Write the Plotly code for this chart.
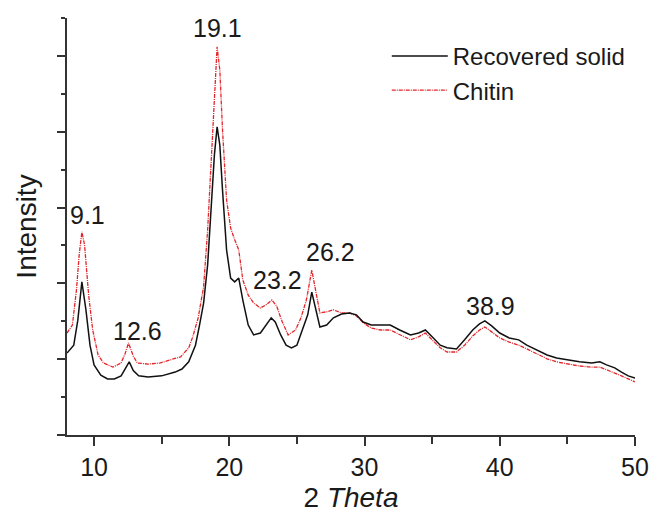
import plotly.graph_objects as go

# ---- data (2-theta in degrees, intensity in axis units) ----
theta_solid = [8.0, 8.5, 8.8, 9.1, 9.4, 9.7, 10.0, 10.5, 11.0, 11.5, 12.0, 12.3, 12.6, 12.9, 13.3,
               14.0, 15.0, 16.0, 16.5, 17.0, 17.5, 17.8, 18.1, 18.4, 18.7, 18.9, 19.1, 19.3, 19.5,
               19.8, 20.1, 20.4, 20.7, 21.0, 21.4, 21.8, 22.3, 22.7, 23.1, 23.4, 23.8, 24.2, 24.6,
               25.0, 25.4, 25.8, 26.1, 26.4, 26.7, 27.2, 27.7, 28.3, 28.9, 29.4, 29.9, 30.5, 31.2,
               31.9, 32.6, 33.4, 34.0, 34.5, 35.0, 35.6, 36.1, 36.8, 37.4, 38.0, 38.5, 38.9, 39.4,
               40.0, 40.7, 41.4, 42.0, 42.8, 43.5, 44.2, 45.0, 45.9, 46.8, 47.4, 47.9, 48.5, 49.0,
               49.5, 50.0]
int_solid = [2.16, 2.37, 3.03, 4.04, 3.30, 2.37, 1.85, 1.58, 1.48, 1.48, 1.56, 1.74, 1.93, 1.70, 1.56,
             1.53, 1.56, 1.66, 1.74, 1.93, 2.37, 2.90, 3.48, 4.49, 6.20, 7.39, 8.13, 7.65, 6.46,
             4.88, 4.14, 4.04, 4.14, 3.56, 2.90, 2.64, 2.69, 2.90, 3.09, 2.98, 2.64, 2.37, 2.30,
             2.37, 2.77, 3.17, 3.77, 3.30, 2.85, 2.90, 3.09, 3.19, 3.22, 3.17, 2.98, 2.90, 2.90,
             2.90, 2.77, 2.64, 2.69, 2.77, 2.59, 2.37, 2.30, 2.27, 2.51, 2.77, 2.93, 3.01, 2.88,
             2.69, 2.56, 2.51, 2.37, 2.24, 2.11, 2.03, 1.98, 1.93, 1.90, 1.93, 1.85, 1.77, 1.66,
             1.56, 1.50]

theta_chitin = [8.0, 8.4, 8.7, 8.9, 9.1, 9.3, 9.6, 9.9, 10.3, 10.7, 11.4, 12.0, 12.3, 12.55, 12.9,
                13.2, 14.0, 14.9, 15.6, 16.4, 17.0, 17.3, 17.7, 18.1, 18.4, 18.7, 18.9, 19.1, 19.3,
                19.5, 19.8, 20.1, 20.4, 20.7, 21.0, 21.4, 21.8, 22.3, 22.7, 23.15, 23.5, 23.9, 24.35,
                24.9, 25.3, 25.7, 26.1, 26.4, 26.7, 27.2, 27.7, 28.3, 28.9, 29.4, 29.9, 30.5, 31.2,
                31.9, 32.6, 33.4, 34.0, 34.5, 35.0, 35.6, 36.1, 36.8, 37.4, 38.0, 38.5, 38.9, 39.4,
                40.0, 40.7, 41.4, 42.0, 42.8, 43.5, 44.2, 45.0, 45.9, 46.8, 47.4, 47.9, 48.5, 49.0,
                49.5, 50.0]
int_chitin = [2.69, 2.90, 3.83, 4.75, 5.36, 5.01, 3.69, 2.77, 2.11, 1.90, 1.79, 1.90, 2.15, 2.43, 2.08,
              1.90, 1.87, 1.90, 1.98, 2.06, 2.30, 2.59, 3.09, 3.91, 5.41, 7.52, 9.10, 10.24, 9.63,
              8.05, 6.20, 5.46, 5.15, 4.88, 4.09, 3.69, 3.48, 3.35, 3.43, 3.56, 3.40, 3.00, 2.64,
              2.77, 3.09, 3.56, 4.35, 3.83, 3.22, 3.25, 3.30, 3.22, 3.22, 3.14, 2.96, 2.82, 2.77,
              2.77, 2.64, 2.51, 2.59, 2.69, 2.51, 2.30, 2.19, 2.19, 2.37, 2.61, 2.77, 2.85, 2.72,
              2.56, 2.45, 2.37, 2.27, 2.14, 2.01, 1.93, 1.87, 1.82, 1.79, 1.79, 1.72, 1.64, 1.56,
              1.48, 1.40]

peak_labels = ["9.1", "12.6", "19.1", "23.2", "26.2", "38.9"]
peak_label_x = [9.55, 13.21, 19.16, 23.53, 27.52, 39.35]
peak_label_y = [5.80, 2.74, 10.74, 4.09, 4.83, 3.40]

x_tick_vals = [10, 20, 30, 40, 50]
x_tick_text = ["10", "20", "30", "40", "50"]

FONT = "Liberation Sans, Arial, sans-serif"
TXT = "#1a1a1a"

fig = go.Figure()
fig.add_trace(go.Scatter(
    x=theta_chitin, y=int_chitin, mode="lines", name="Chitin",
    line=dict(color="#e3262b", width=1.3, dash="4px,1px,1px,1px"),
    legendrank=2,
))
fig.add_trace(go.Scatter(
    x=theta_solid, y=int_solid, mode="lines", name="Recovered solid",
    line=dict(color="#111111", width=1.5),
    legendrank=1,
))

for t, xv, yv in zip(peak_labels, peak_label_x, peak_label_y):
    fig.add_annotation(x=xv, y=yv, text=t, showarrow=False,
                       font=dict(family=FONT, size=25, color=TXT),
                       xanchor="center", yanchor="middle")

# x axis line extends slightly left of the y axis
fig.add_shape(type="line", xref="paper", yref="paper", x0=-0.016, x1=0, y0=0, y1=0,
              line=dict(color="#333333", width=1.6))

fig.update_layout(
    width=651, height=519,
    margin=dict(l=67, r=16, t=18, b=84),
    paper_bgcolor="white", plot_bgcolor="white",
    font=dict(family=FONT, color=TXT),
    showlegend=True,
    legend=dict(x=0.563, y=0.962, xanchor="left", yanchor="top",
                font=dict(family=FONT, size=24, color=TXT),
                itemwidth=56,
                bgcolor="rgba(0,0,0,0)", tracegroupgap=0),
    xaxis=dict(
        range=[8, 50], showgrid=False, zeroline=False, automargin=False,
        showline=True, linecolor="#333333", linewidth=1.6,
        tickmode="array", tickvals=x_tick_vals, ticktext=x_tick_text,
        ticks="outside", ticklen=9, tickwidth=1.6, tickcolor="#333333",
        tickfont=dict(family=FONT, size=25, color=TXT),
        minor=dict(dtick=5, tick0=0, ticks="outside", ticklen=7, tickwidth=1.6, tickcolor="#333333"),
        title=dict(text="2 <i>Theta</i>", font=dict(family=FONT, size=28, color=TXT), standoff=8),
    ),
    yaxis=dict(
        range=[0, 11], showgrid=False, zeroline=False, automargin=False,
        showline=True, linecolor="#333333", linewidth=1.6,
        dtick=2, tick0=0, showticklabels=False,
        ticks="outside", ticklen=8, tickwidth=1.6, tickcolor="#333333",
        minor=dict(dtick=1, tick0=0, ticks="outside", ticklen=4, tickwidth=1.6, tickcolor="#333333"),
        title=dict(text="Intensity", font=dict(family=FONT, size=28, color=TXT), standoff=12),
    ),
)

fig.write_html("out.html", config={"displayModeBar": False},
               post_script="document.body.style.margin='0';document.body.style.padding='0';")
